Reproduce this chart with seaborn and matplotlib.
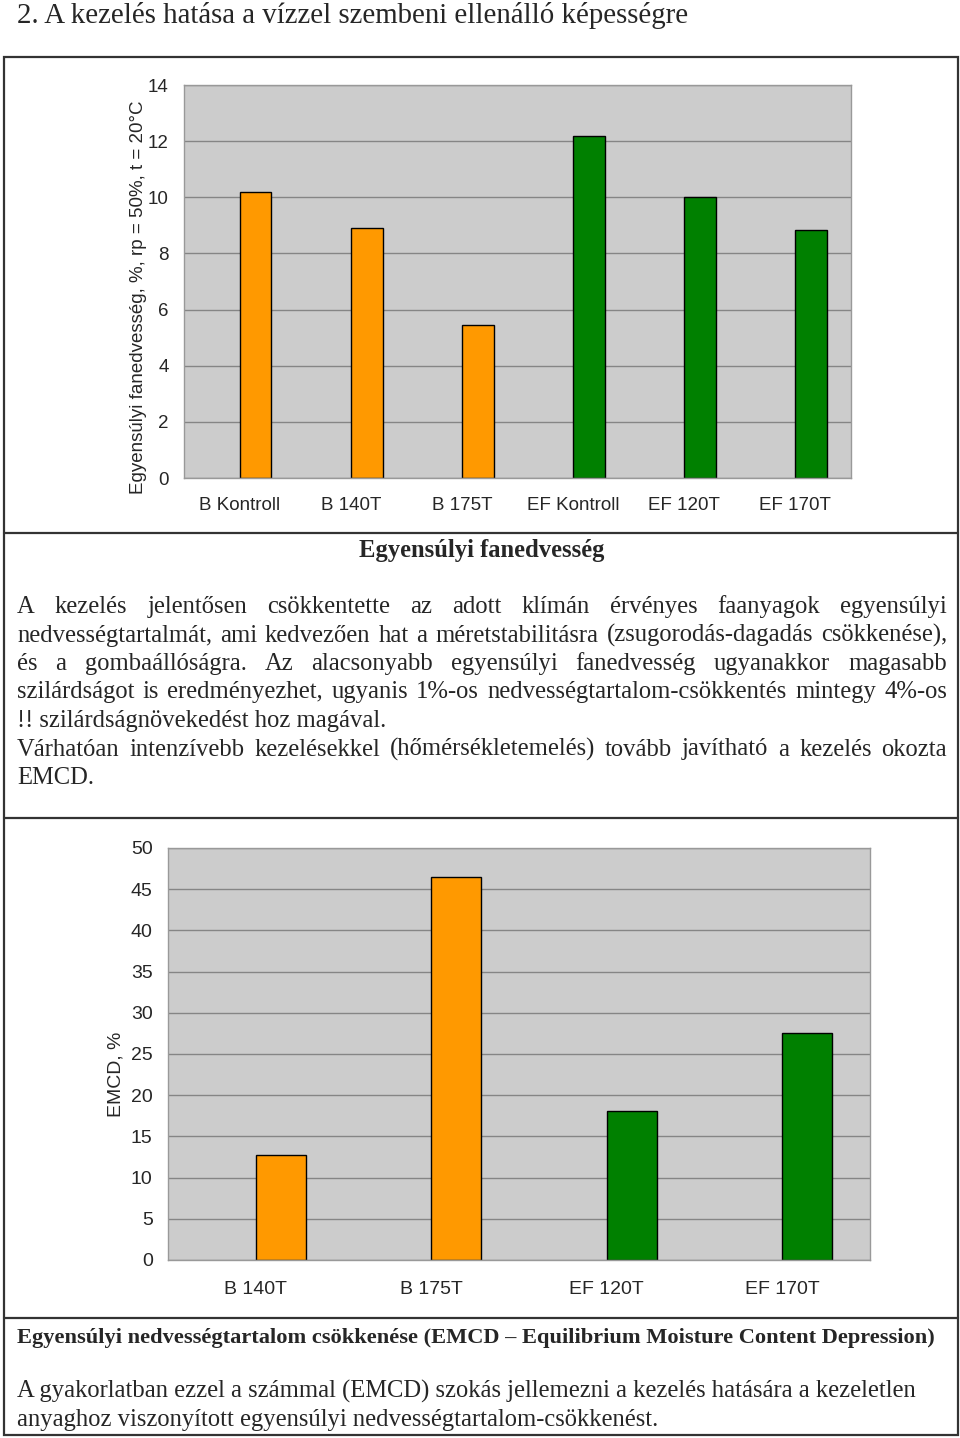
import numpy as np
import pandas as pd
import matplotlib
matplotlib.use("Agg")
import matplotlib.pyplot as plt
import seaborn as sns
from matplotlib.patches import Rectangle
from matplotlib.lines import Line2D

# --- adatok ---
efm_labels = ["B Kontroll", "B 140T", "B 175T", "EF Kontroll", "EF 120T", "EF 170T"]
efm_groups = ["B", "B", "B", "EF", "EF", "EF"]
efm_values = [10.2, 8.9, 5.45, 12.2, 10.0, 8.85]
efm_yticks = [0, 2, 4, 6, 8, 10, 12, 14]

emcd_labels = ["B 140T", "B 175T", "EF 120T", "EF 170T"]
emcd_groups = ["B", "B", "EF", "EF"]
emcd_values = [12.7, 46.5, 18.1, 27.5]
emcd_yticks = [0, 5, 10, 15, 20, 25, 30, 35, 40, 45, 50]

group_colors = {"B": "#FF9900", "EF": "#008000"}

title = "2. A kezelés hatása a vízzel szembeni ellenálló képességre"
efm_ylabel = "Egyensúlyi fanedvesség, %, rp = 50%, t = 20°C"
emcd_ylabel = "EMCD, %"
heading1 = "Egyensúlyi fanedvesség"
body1 = [
    "A kezelés jelentősen csökkentette az adott klímán érvényes faanyagok egyensúlyi",
    "nedvességtartalmát, ami kedvezően hat a méretstabilitásra (zsugorodás-dagadás csökkenése),",
    "és a gombaállóságra. Az alacsonyabb egyensúlyi fanedvesség ugyanakkor magasabb",
    "szilárdságot is eredményezhet, ugyanis 1%-os nedvességtartalom-csökkentés mintegy 4%-os",
    "!! szilárdságnövekedést hoz magával.",
    "Várhatóan intenzívebb kezelésekkel (hőmérsékletemelés) tovább javítható a kezelés okozta",
    "EMCD.",
]
body1_last = [False, False, False, False, True, False, True]
heading2 = "Egyensúlyi nedvességtartalom csökkenése (EMCD – Equilibrium Moisture Content Depression)"
body2 = [
    "A gyakorlatban ezzel a számmal (EMCD) szokás jellemezni a kezelés hatására a kezeletlen",
    "anyaghoz viszonyított egyensúlyi nedvességtartalom-csökkenést.",
]

sns.set_style("white")
plt.rcParams["font.family"] = ["Liberation Sans", "DejaVu Sans"]

W, H = 960, 1438
fig = plt.figure(figsize=(W / 100, H / 100), dpi=100)


def fx(px):
    return px / W


def fy(py):
    return 1 - py / H


def bar_chart(ax, labels, groups, values, yticks, ylabel, fs, label_xy, xpad):
    # Excel-szerű elrendezés: egy üres és egy mért sorozat, a mért oszlop a jobb oldali helyen
    df = pd.DataFrame({"kezeles": labels, "sorozat": "mért", "ertek": values})
    sns.barplot(data=df, x="kezeles", y="ertek", hue="sorozat", hue_order=["üres", "mért"],
                palette={"üres": "white", "mért": "#FF9900"}, dodge=True, width=0.572,
                saturation=1, edgecolor="black", linewidth=1, legend=False, ax=ax)
    for patch, g in zip(ax.patches, groups):
        patch.set_facecolor(group_colors[g])
    n = len(labels)
    ax.set_facecolor("#CCCCCC")
    ax.set_ylim(0, yticks[-1])
    ax.set_yticks(yticks)
    ax.set_xlim(-0.5, n - 0.5)
    ax.set_xticks(np.arange(-0.5, n), minor=True)
    ax.yaxis.grid(True, color="#858585", linewidth=1)
    ax.set_axisbelow(True)
    ax.tick_params(axis="x", which="major", length=0, pad=xpad, labelsize=fs)
    ax.tick_params(axis="x", which="minor", length=5, width=1, color="#999999")
    ax.tick_params(axis="y", length=5, width=1, color="#999999", pad=6, labelsize=fs)
    for s in ax.spines.values():
        s.set_color("#999999")
        s.set_linewidth(1)
    ax.set_xlabel("")
    ax.set_ylabel(ylabel, fontsize=fs)
    ax.yaxis.set_label_coords(*label_xy)


ax1 = fig.add_axes([fx(184), fy(478), fx(851 - 184), (478 - 85) / H])
bar_chart(ax1, efm_labels, efm_groups, efm_values, efm_yticks, efm_ylabel, 13.5,
          (-0.055, 0.46), 14)

ax2 = fig.add_axes([fx(168), fy(1260), fx(870 - 168), (1260 - 848) / H])
bar_chart(ax2, emcd_labels, emcd_groups, emcd_values, emcd_yticks, emcd_ylabel, 14,
          (-0.062, 0.45), 15)

# keretek
frame_kw = dict(transform=fig.transFigure, color="#333333", linewidth=1.6)
fig.add_artist(Rectangle((fx(4), fy(1435)), fx(954), (1435 - 57) / H, fill=False,
                         edgecolor="#333333", linewidth=1.6, transform=fig.transFigure))
for yy in [533, 818, 1318]:
    fig.add_artist(Line2D([fx(4), fx(958)], [fy(yy), fy(yy)], **frame_kw))

serif = ["Liberation Serif", "DejaVu Serif"]
body_fs = 17.7
fig.text(fx(17), fy(23), title, family=serif, fontsize=20.8, va="baseline")
fig.text(fx(482), fy(557), heading1, family=serif, fontsize=17.7, weight="bold",
         ha="center", va="baseline")
fig.text(fx(17), fy(1343), heading2, family=serif, fontsize=16.1, weight="bold",
         va="baseline")

renderer = fig.canvas.get_renderer()


def justified(lines, last, x0, x1, y0, dy, size):
    for i, line in enumerate(lines):
        y = fy(y0 + i * dy)
        if last[i]:
            fig.text(fx(x0), y, line, family=serif, fontsize=size, va="baseline")
            continue
        words = line.split(" ")
        texts = [fig.text(0, y, w, family=serif, fontsize=size, va="baseline") for w in words]
        widths = [t.get_window_extent(renderer=renderer).width for t in texts]
        gap = (x1 - x0 - sum(widths)) / (len(words) - 1)
        x = x0
        for t, w in zip(texts, widths):
            t.set_x(fx(x))
            x += w + gap


justified(body1, body1_last, 17, 947, 613, 28.5, body_fs)
for i, line in enumerate(body2):
    fig.text(fx(17), fy(1398 + i * 28), line, family=serif, fontsize=body_fs, va="baseline")

fig.savefig("out.png", dpi=100)
